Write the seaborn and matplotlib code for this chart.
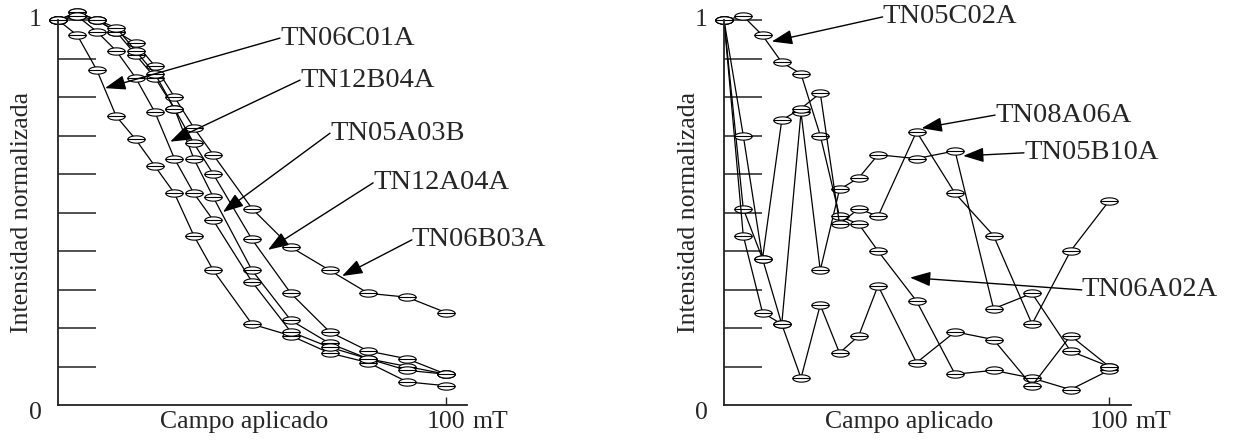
import numpy as np
import pandas as pd
import matplotlib
matplotlib.use('Agg')
import matplotlib.pyplot as plt
from matplotlib.path import Path
import seaborn as sns

# Campo aplicado (mT) en cada paso de desmagnetizacion
campo = [0, 5, 10, 15, 20, 25, 30, 35, 40, 50, 60, 70, 80, 90, 100]

# Panel izquierdo: intensidad normalizada
TN06C01A = [1.00, 0.96, 0.87, 0.75, 0.69, 0.62, 0.55, 0.44, 0.35, 0.21, 0.18, 0.135, 0.11, 0.06, 0.05]
TN12B04A = [1.00, 1.01, 0.97, 0.92, 0.85, 0.76, 0.64, 0.55, 0.48, 0.32, 0.19, 0.15, 0.12, 0.09, 0.08]
TN05A03B = [1.00, 1.02, 1.00, 0.97, 0.91, 0.85, 0.77, 0.64, 0.54, 0.35, 0.22, 0.16, 0.12, 0.10, 0.08]
TN12A04A = [1.00, 1.01, 1.00, 0.98, 0.92, 0.86, 0.77, 0.68, 0.60, 0.43, 0.29, 0.19, 0.14, 0.12, 0.08]
TN06B03A = [1.00, 1.02, 1.00, 0.97, 0.94, 0.88, 0.80, 0.72, 0.65, 0.51, 0.41, 0.35, 0.29, 0.28, 0.24]

# Panel derecho
TN05C02A = [1.00, 1.01, 0.96, 0.89, 0.86, 0.70, 0.49, 0.47, 0.40, 0.27, 0.08, 0.09, 0.07, 0.04, 0.09]
TN08A06A = [1.00, 0.70, 0.38, 0.74, 0.77, 0.81, 0.47, 0.51, 0.49, 0.71, 0.55, 0.44, 0.21, 0.40, 0.53]
TN05B10A = [1.00, 0.51, 0.38, 0.21, 0.76, 0.35, 0.56, 0.59, 0.65, 0.64, 0.66, 0.25, 0.29, 0.14, 0.10]
serie_5 = [1.00, 0.44, 0.24, 0.21, 0.07, 0.26, 0.135, 0.18, 0.31, 0.11, 0.19, 0.17, 0.05, 0.18, 0.10]

series_izq = {'TN06C01A': TN06C01A, 'TN12B04A': TN12B04A, 'TN05A03B': TN05A03B,
              'TN12A04A': TN12A04A, 'TN06B03A': TN06B03A}
series_der = {'TN05C02A': TN05C02A, 'TN08A06A': TN08A06A, 'TN05B10A': TN05B10A,
              'serie_5': serie_5}

# etiquetas: (texto, posicion del texto, punta de flecha) en unidades de datos
etiquetas_izq = [('TN06C01A', (57.2, 0.953), (12.1, 0.823)),
                 ('TN12B04A', (62.4, 0.844), (28.9, 0.684)),
                 ('TN05A03B', (70.1, 0.706), (42.5, 0.501)),
                 ('TN12A04A', (81.2, 0.577), (54.1, 0.403)),
                 ('TN06B03A', (91.2, 0.429), (73.2, 0.335))]
etiquetas_der = [('TN05C02A', (41.2, 1.008), (12.4, 0.944)),
                 ('TN08A06A', (70.4, 0.753), (51.3, 0.719)),
                 ('TN05B10A', (77.9, 0.655), (62.1, 0.647)),
                 ('TN06A02A', (92.9, 0.299), (48.3, 0.331))]


def to_long(series):
    rows = []
    for name, vals in series.items():
        for c, v in zip(campo, vals):
            rows.append({'serie': name, 'campo': c, 'intensidad': v})
    return pd.DataFrame(rows)


def ellipse_marker():
    """Elipse horizontal con una raya en medio"""
    t = np.linspace(0, 2 * np.pi, 40)
    verts = list(zip(np.cos(t), 0.42 * np.sin(t)))
    codes = [Path.MOVETO] + [Path.LINETO] * (len(verts) - 2) + [Path.CLOSEPOLY]
    verts += [(-1, 0), (1, 0)]
    codes += [Path.MOVETO, Path.LINETO]
    return Path(verts, codes)


sns.set_style('ticks')
plt.rcParams['font.family'] = ['Liberation Serif', 'DejaVu Serif']
FS = 18.5
FS_ETQ = 20.5

fig = plt.figure(figsize=(12.33, 4.45), dpi=100)
ax_izq = fig.add_axes([58 / 1233, 40 / 445, 409 / 1233, 385 / 445])
ax_der = fig.add_axes([724 / 1233, 40 / 445, 407 / 1233, 385 / 445])

marca = ellipse_marker()

for ax, series, etiquetas, xmax in [(ax_izq, series_izq, etiquetas_izq, 105.4),
                                    (ax_der, series_der, etiquetas_der, 105.7)]:
    df = to_long(series)
    sns.lineplot(data=df, x='campo', y='intensidad', units='serie', estimator=None,
                 sort=False, color='black', marker=marca, markersize=12.5,
                 markerfacecolor='white', markeredgecolor='black', markeredgewidth=0.8,
                 linewidth=0.9, ax=ax, clip_on=False)
    ax.set_xlim(0, xmax)
    ax.set_ylim(0, 1)
    sns.despine(ax=ax)
    for s in ['left', 'bottom']:
        ax.spines[s].set_linewidth(1.3)
        ax.spines[s].set_color('#222222')

    ax.set_yticks(np.arange(0.1, 1.01, 0.1))
    ax.tick_params(axis='y', direction='in', length=27, width=1.1, color='#222222',
                   labelleft=False)
    ax.set_xticks([100], ['100'])
    ax.tick_params(axis='x', direction='in', length=6, width=1.0, pad=4,
                   labelsize=FS, color='#222222')
    ax.text(106.8, -0.016, 'mT', transform=ax.get_xaxis_transform(), ha='left',
            va='top', fontsize=FS)

    ax.text(-0.04, 1.0, '1', transform=ax.transAxes, ha='right', va='center', fontsize=FS)
    ax.text(-0.04, -0.02, '0', transform=ax.transAxes, ha='right', va='center', fontsize=FS)

    ax.set_xlabel('Campo aplicado', fontsize=FS)
    ax.xaxis.set_label_coords(0.455, -0.015)
    ax.set_ylabel('Intensidad normalizada', fontsize=FS)
    ax.yaxis.set_label_coords(-0.06, 0.5)

    for texto, pos, punta in etiquetas:
        ax.annotate(texto, xy=punta, xytext=pos, ha='left', va='center', fontsize=FS_ETQ,
                    annotation_clip=False,
                    arrowprops=dict(arrowstyle='-|>,head_length=0.9,head_width=0.32',
                                    color='black', lw=1.0, shrinkA=0, shrinkB=0,
                                    patchA=None, relpos=(0, 0.5), mutation_scale=14))

fig.savefig('out.png', dpi=100)
